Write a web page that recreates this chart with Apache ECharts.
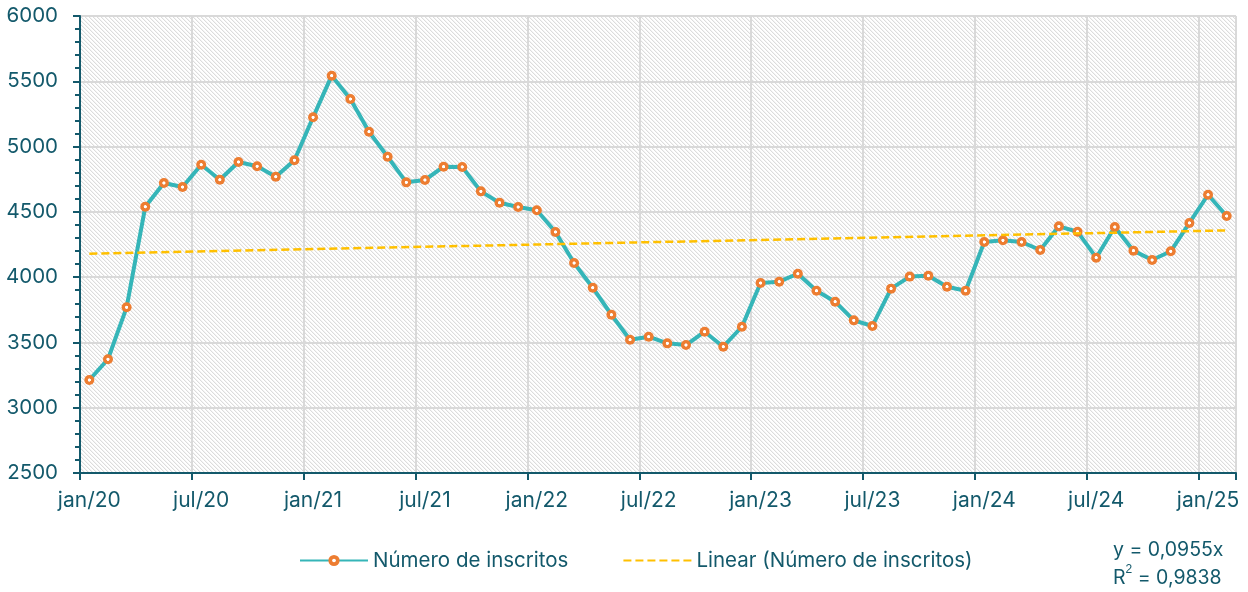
<!DOCTYPE html>
<html>
<head>
<meta charset="utf-8">
<script src="https://cdn.jsdelivr.net/npm/echarts@6/dist/echarts.min.js"></script>
<style>
  html, body { margin: 0; padding: 0; background: #fff; }
  #chart { width: 1248px; height: 592px; }
</style>
</head>
<body>
<div id="chart"></div>
<script>
const years = ["20", "21", "22", "23", "24", "25"]
const months = ["jan", "fev", "mar", "abr", "mai", "jun", "jul", "ago", "set", "out", "nov", "dez"]

// monthly categories jan/20 .. feb/25
const categories = []
years.forEach(y => months.forEach(m => categories.push(m + "/" + y)))
categories.length = 62

const inscritos = [
  3212, 3371, 3769, 4539, 4721, 4690, 4861, 4746, 4882, 4849, 4769, 4895,
  5224, 5543, 5364, 5114, 4922, 4726, 4744, 4846, 4844, 4657, 4570, 4537,
  4512, 4346, 4108, 3919, 3712, 3521, 3544, 3493, 3480, 3582, 3467, 3620,
  3955, 3965, 4026, 3896, 3812, 3669, 3626, 3912, 4004, 4011, 3927, 3896,
  4269, 4282, 4269, 4208, 4389, 4348, 4149, 4384, 4203, 4131, 4198, 4415,
  4631, 4468
]

// trendline end points
const trendStart = 4180
const trendEnd = 4358
const trend = categories.map((c, i) =>
  i === 0 ? trendStart : i === categories.length - 1 ? trendEnd : null
)

const equationLines = ["y = 0,0955x", "R{sup|2} = 0,9838"]

const teal = "#13596b"

// hatched plot background
const makeHatch = () => {
  const c = document.createElement("canvas")
  c.width = 4
  c.height = 4
  const ctx = c.getContext("2d")
  ctx.fillStyle = "#ffffff"
  ctx.fillRect(0, 0, 4, 4)
  ctx.fillStyle = "#dcdcdc"
  for (let i = 0; i < 4; i++) ctx.fillRect(i, i, 1, 1)
  ctx.fillStyle = "#f4f4f4"
  for (let i = 0; i < 4; i++) ctx.fillRect((i + 1) % 4, i, 1, 1)
  return c
}

const font = "Inter"

const chart = echarts.init(document.getElementById("chart"))
chart.setOption({
  animation: false,
  textStyle: { fontFamily: font },
  grid: {
    left: 80,
    right: 12,
    top: 16,
    bottom: 119,
    show: true,
    borderWidth: 0,
    backgroundColor: { image: makeHatch(), repeat: "repeat" },
  },
  legend: {
    left: 294,
    top: 545,
    itemWidth: 68,
    itemHeight: 14,
    itemGap: 54,
    textStyle: { color: teal, fontSize: 20.5, fontFamily: font },
    data: [
      { name: "Número de inscritos" },
      { name: "Linear (Número de inscritos)", itemStyle: { color: "transparent", borderWidth: 0 } },
    ],
  },
  xAxis: {
    type: "category",
    data: categories,
    boundaryGap: true,
    axisLine: { lineStyle: { color: teal, width: 2 } },
    axisTick: { show: true, interval: 5, length: 7, lineStyle: { color: teal, width: 2 } },
    axisLabel: {
      interval: 5,
      color: teal,
      fontSize: 21,
      margin: 17,
      formatter: v => (v.startsWith("jan") || v.startsWith("jul") ? v : ""),
    },
    splitLine: { show: true, interval: 5, lineStyle: { color: "#d9d9d9", width: 2 } },
  },
  yAxis: {
    type: "value",
    min: 2500,
    max: 6000,
    interval: 500,
    axisLine: { show: true, lineStyle: { color: teal, width: 2 } },
    axisTick: { show: true, length: 7, lineStyle: { color: teal, width: 2 } },
    minorTick: { show: true, splitNumber: 5, length: 5, lineStyle: { color: teal, width: 2 } },
    axisLabel: { color: teal, fontSize: 20.5, margin: 22, formatter: v => String(v) },
    splitLine: { show: true, lineStyle: { color: "#d9d9d9", width: 2 } },
  },
  series: [
    {
      name: "Número de inscritos",
      type: "line",
      data: inscritos,
      symbol: "circle",
      symbolSize: 10,
      z: 2,
      lineStyle: { color: "#35b5b8", width: 4 },
      itemStyle: {
        color: {
          type: "radial",
          x: 0.5,
          y: 0.5,
          r: 0.5,
          colorStops: [
            { offset: 0, color: "#ffffff" },
            { offset: 0.25, color: "#ffffff" },
            { offset: 0.38, color: "#ed7d31" },
            { offset: 1, color: "#ed7d31" },
          ],
        },
        borderWidth: 0,
      },
    },
    {
      name: "Linear (Número de inscritos)",
      type: "line",
      data: trend,
      connectNulls: true,
      symbol: "none",
      z: 3,
      lineStyle: { color: "#ffc000", width: 2.5, type: [8, 4] },
      itemStyle: { color: "#ffc000" },
    },
  ],
  graphic: [
    {
      type: "text",
      left: 1113,
      top: 536,
      style: {
        text: equationLines.join("\n"),
        fill: teal,
        font: "19.5px " + font,
        lineHeight: 28,
        rich: {
          sup: { fontSize: 12, verticalAlign: "top", fill: teal, padding: [0, 0, 10, 0] },
        },
      },
    },
  ],
})
</script>
</body>
</html>
